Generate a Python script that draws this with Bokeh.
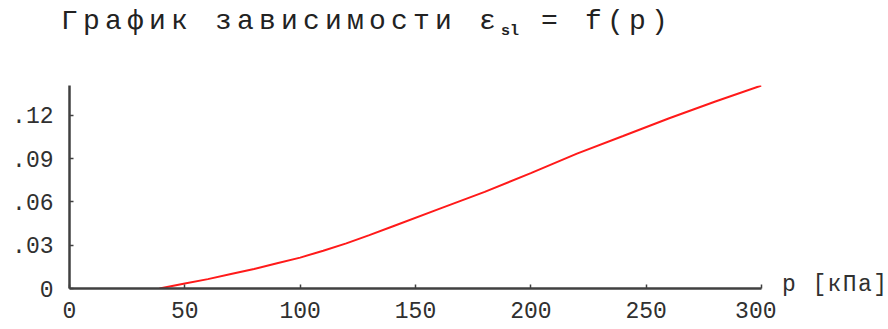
from bokeh.plotting import figure
from bokeh.models import Div, Range1d, FixedTicker, CustomJSTickFormatter
from bokeh.layouts import column, row
from bokeh.embed import file_html
from bokeh.resources import INLINE

# data
p_kpa = [39, 50, 60, 70, 80, 90, 100, 110, 120, 130, 140, 160, 180, 200, 220, 240, 260, 280, 300]
eps_sl = [0.0, 0.0034, 0.0065, 0.0100, 0.0135, 0.0175, 0.0214, 0.0262, 0.0313, 0.0370, 0.0430,
          0.055, 0.067, 0.080, 0.0935, 0.1057, 0.118, 0.1296, 0.1407]
x_ticks = [0, 50, 100, 150, 200, 250, 300]
y_ticks = [0, 0.03, 0.06, 0.09, 0.12]

title_html = ('График зависимости ε<sub style="font-size:15px;font-weight:bold;'
              'letter-spacing:0px;vertical-align:-6px;">sl</sub> = f(p)')
x_unit_label = "p [кПа]"

MONO = "Liberation Mono"

div = Div(text=title_html, width=880, height=40, margin=(0, 0, 0, 0),
          styles={"font-family": MONO, "font-size": "28px", "letter-spacing": "5.2px",
                  "line-height": "34px", "color": "#222222", "padding-left": "61px",
                  "padding-top": "5px", "box-sizing": "border-box",
                  "white-space": "nowrap"})

p = figure(width=776, height=288, output_backend="svg", toolbar_location=None,
           x_range=Range1d(0, 300), y_range=Range1d(0, 0.1407),
           min_border_left=69, min_border_top=45, min_border_right=15, min_border_bottom=40,
           margin=(0, 0, 0, 0))
p.outline_line_color = None
p.xgrid.visible = False
p.ygrid.visible = False
p.background_fill_color = "white"

p.line(p_kpa, eps_sl, line_color="#ff1a1a", line_width=2)

for ax in (p.xaxis[0], p.yaxis[0]):
    ax.axis_line_color = "#404040"
    ax.axis_line_width = 2.5
    ax.major_tick_line_color = "#404040"
    ax.major_tick_line_width = 1.5
    ax.major_tick_in = 4
    ax.major_tick_out = 0
    ax.minor_tick_line_color = None
    ax.major_label_text_font = MONO
    ax.major_label_text_font_size = "23px"
    ax.major_label_text_color = "#303030"

p.xaxis[0].ticker = FixedTicker(ticks=x_ticks)
p.xaxis[0].major_label_standoff = 13
p.yaxis[0].ticker = FixedTicker(ticks=y_ticks)
p.yaxis[0].major_label_standoff = 16
p.yaxis[0].formatter = CustomJSTickFormatter(
    code="return tick == 0 ? '0' : tick.toFixed(2).replace(/^0/, '');")

unit_div = Div(text=x_unit_label, width=112, height=260, margin=(0, 0, 0, 0),
               styles={"font-family": MONO, "font-size": "23px", "letter-spacing": "1.4px",
                       "line-height": "24px", "color": "#303030", "padding-left": "6px",
                       "padding-top": "233px", "box-sizing": "border-box",
                       "white-space": "nowrap"})

layout = column(div, row(p, unit_div, spacing=0, margin=(0, 0, 0, 0)),
                spacing=0, margin=(0, 0, 0, 0))
open("out.html", "w").write(file_html(layout, INLINE))
